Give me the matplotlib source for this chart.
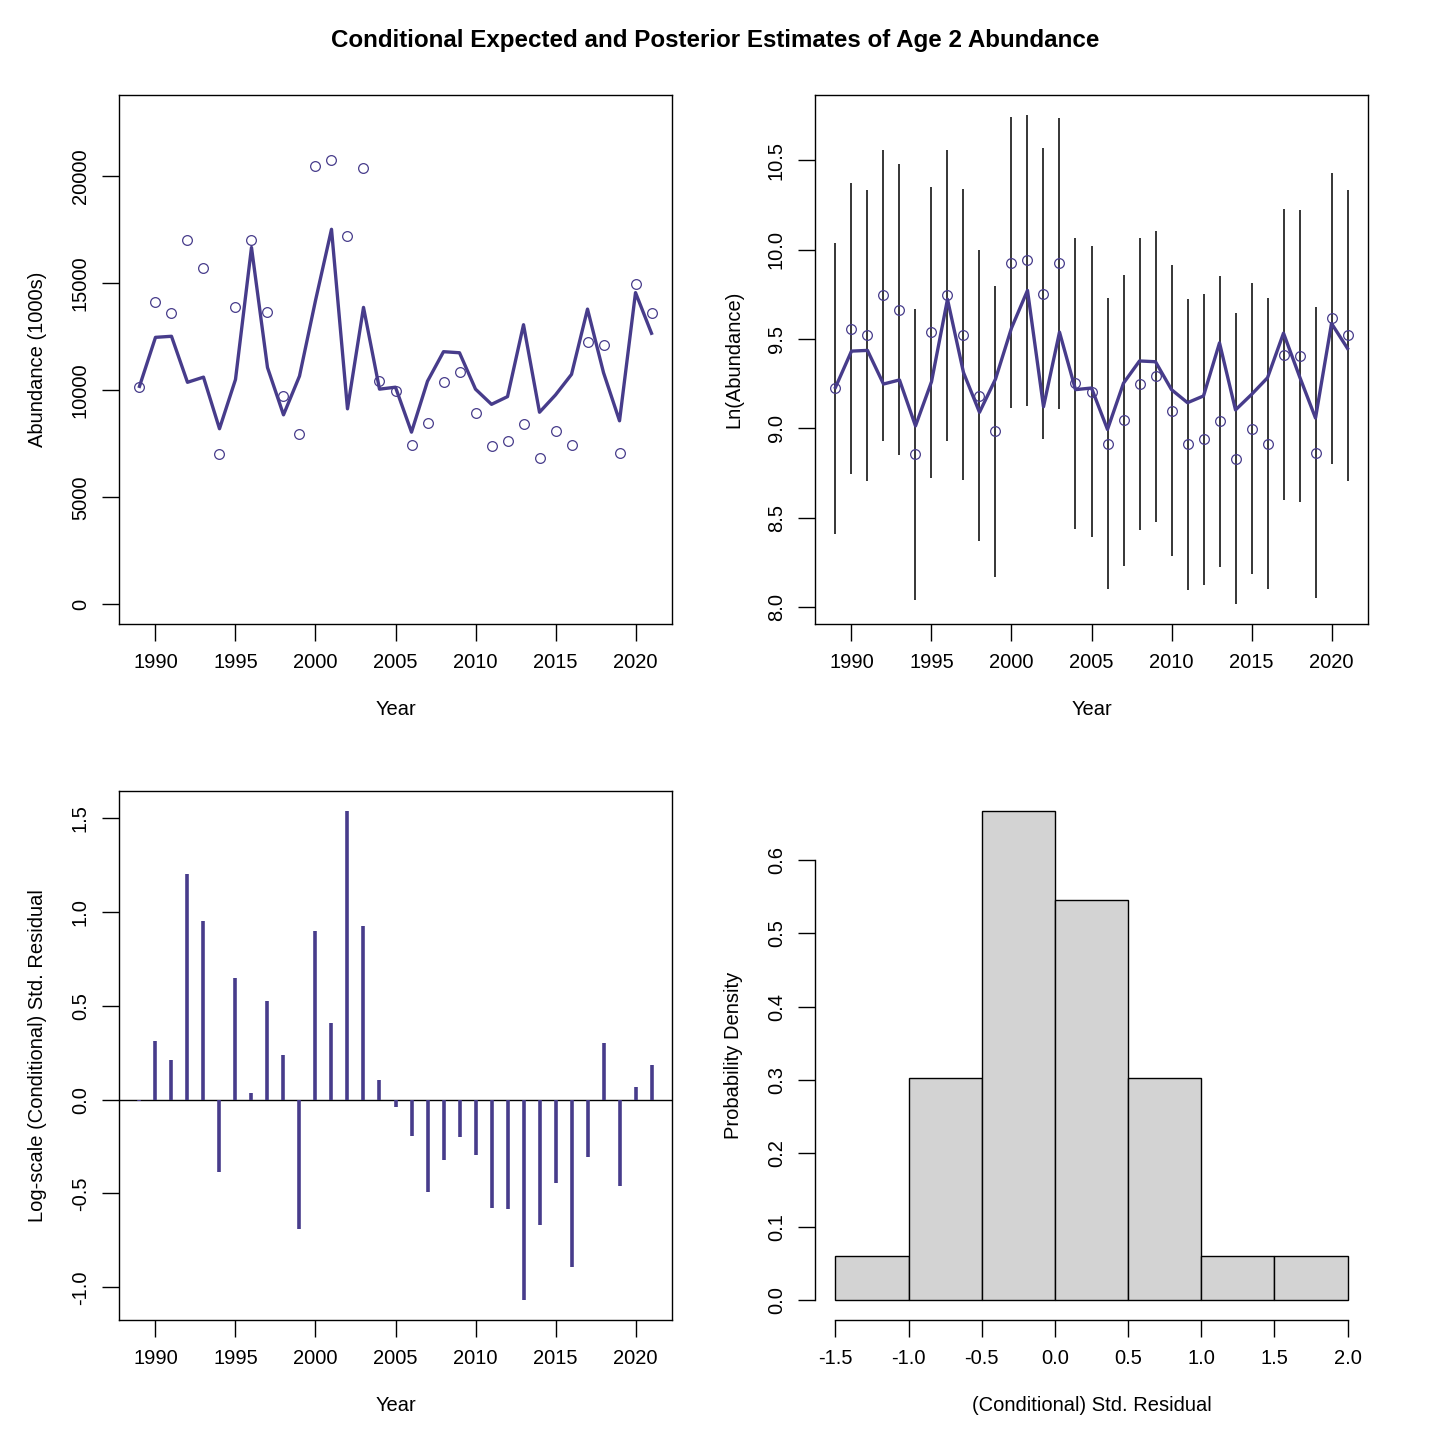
import numpy as np
import matplotlib
matplotlib.use("Agg")
import matplotlib.pyplot as plt

plt.rcParams['font.family'] = ['Liberation Sans', 'DejaVu Sans']
plt.rcParams['axes.unicode_minus'] = False

# data
years = np.arange(1989, 2022)
obs = [10140, 14150, 13640, 17040, 15740, 7010, 13880, 17040, 13680, 9720, 7960,
       20480, 20760, 17210, 20390, 10430, 9950, 7440, 8470, 10380, 10840, 8940,
       7400, 7620, 8420, 6830, 8090, 7440, 12240, 12140, 7060, 14980, 13640]
pred = [10190, 12480, 12530, 10380, 10620, 8210, 10510, 16680, 11070, 8860, 10670,
        14200, 17530, 9140, 13880, 10060, 10150, 8050, 10430, 11810, 11760, 10060,
        9350, 9710, 13070, 8980, 9790, 10750, 13800, 10830, 8580, 14570, 12670]
ci_half = 0.815   # half width of the interval on log scale
resid = [-0.01, 0.311, 0.211, 1.200, 0.954, -0.385, 0.650, 0.035, 0.524, 0.236, -0.687,
         0.896, 0.408, 1.540, 0.925, 0.104, -0.042, -0.192, -0.491, -0.321, -0.198,
         -0.297, -0.575, -0.581, -1.070, -0.670, -0.443, -0.894, -0.304, 0.300,
         -0.458, 0.066, 0.183]
hist_edges = [-1.5, -1.0, -0.5, 0.0, 0.5, 1.0, 1.5, 2.0]

title = "Conditional Expected and Posterior Estimates of Age 2 Abundance"
col = "#473C8B"
fs = 14.5

W = 1440.0
def box(x0, y0, x1, y1):
    return [x0 / W, 1 - y1 / W, (x1 - x0) / W, (y1 - y0) / W]

def rpad(lo, hi):
    d = (hi - lo) * 0.04
    return lo - d, hi + d

def style(ax):
    ax.tick_params(direction='out', length=12, width=1, labelsize=fs, pad=9, color='black')
    for lab in ax.get_yticklabels():
        lab.set_rotation(90)
        lab.set_va('center')
    for s in ax.spines.values():
        s.set_linewidth(1)

obs = np.array(obs, float)
pred = np.array(pred, float)
resid = np.array(resid)
xlim = rpad(years.min(), years.max())
xt = np.arange(1990, 2021, 5)
xlpad, ylpad = 20, 17

fig = plt.figure(figsize=(14.4, 14.4), dpi=100)
fig.text(715 / W, 1 - 41 / W, title, ha='center', va='center', fontsize=17.4, fontweight='bold')

# top left
ax1 = fig.add_axes(box(119, 95, 672, 624))
ax1.plot(years, pred, color=col, lw=2.4, zorder=2)
ax1.plot(years, obs, 'o', mfc='none', mec=col, ms=7, mew=0.9, zorder=3)
ax1.set_xlim(*xlim)
ax1.set_ylim(-915, 23805)
ax1.set_xticks(xt)
ax1.set_yticks([0, 5000, 10000, 15000, 20000])
ax1.set_xlabel("Year", fontsize=fs, labelpad=xlpad)
ax1.set_ylabel("Abundance (1000s)", fontsize=fs, labelpad=ylpad)
style(ax1)

# top right
ax2 = fig.add_axes(box(815, 95, 1368, 624))
lo = np.log(obs) - ci_half
hi = np.log(obs) + ci_half
ax2.vlines(years, lo, hi, color='black', lw=1.1, zorder=1)
ax2.plot(years, np.log(pred), color=col, lw=2.4, zorder=2)
ax2.plot(years, np.log(obs), 'o', mfc='none', mec=col, ms=7, mew=0.9, zorder=3)
ax2.set_xlim(*xlim)
ax2.set_ylim(*rpad(lo.min(), hi.max()))
ax2.set_xticks(xt)
ax2.set_yticks([8.0, 8.5, 9.0, 9.5, 10.0, 10.5])
ax2.set_yticklabels(["8.0", "8.5", "9.0", "9.5", "10.0", "10.5"])
ax2.set_xlabel("Year", fontsize=fs, labelpad=xlpad)
ax2.set_ylabel("Ln(Abundance)", fontsize=fs, labelpad=ylpad)
style(ax2)

# bottom left
ax3 = fig.add_axes(box(119, 791, 672, 1320))
ax3.axhline(0, color='black', lw=1, zorder=1)
ax3.vlines(years, 0, resid, color=col, lw=2.6, zorder=2)
ax3.set_xlim(*xlim)
ax3.set_ylim(*rpad(resid.min(), resid.max()))
ax3.set_xticks(xt)
ax3.set_yticks([-1.0, -0.5, 0.0, 0.5, 1.0, 1.5])
ax3.set_yticklabels(["-1.0", "-0.5", "0.0", "0.5", "1.0", "1.5"])
ax3.set_xlabel("Year", fontsize=fs, labelpad=xlpad)
ax3.set_ylabel("Log-scale (Conditional) Std. Residual", fontsize=fs, labelpad=ylpad)
style(ax3)

# bottom right
ax4 = fig.add_axes(box(815, 791, 1368, 1320))
dens, _, _ = ax4.hist(resid, bins=hist_edges, density=True, color='#D3D3D3',
                      edgecolor='black', linewidth=1)
ax4.set_xlim(*rpad(hist_edges[0], hist_edges[-1]))
ax4.set_ylim(*rpad(0, dens.max()))
ax4.set_xticks(hist_edges)
ax4.set_xticklabels(["%.1f" % v for v in hist_edges])
yt = [0.0, 0.1, 0.2, 0.3, 0.4, 0.5, 0.6]
ax4.set_yticks(yt)
ax4.set_yticklabels(["%.1f" % v for v in yt])
ax4.spines['top'].set_visible(False)
ax4.spines['right'].set_visible(False)
ax4.spines['left'].set_bounds(0.0, 0.6)
ax4.spines['bottom'].set_bounds(hist_edges[0], hist_edges[-1])
ax4.set_xlabel("(Conditional) Std. Residual", fontsize=fs, labelpad=xlpad)
ax4.set_ylabel("Probability Density", fontsize=fs, labelpad=ylpad)
style(ax4)

fig.savefig("out.png", dpi=100)
